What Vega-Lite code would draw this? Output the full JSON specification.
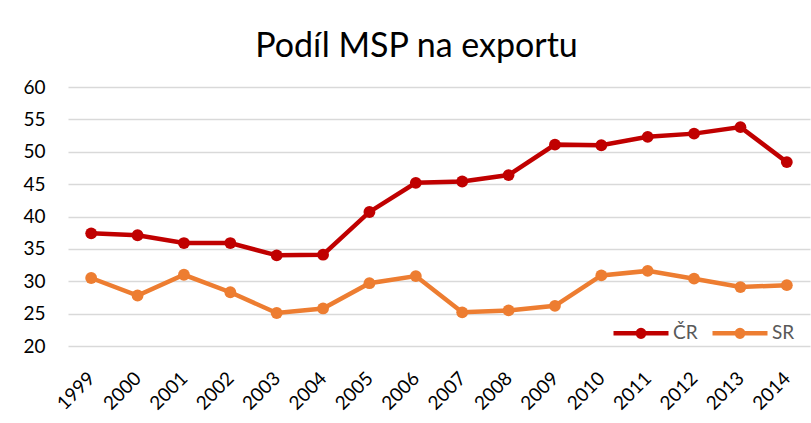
{
  "$schema": "https://vega.github.io/schema/vega-lite/v6.json",
  "width": 742,
  "height": 259,
  "autosize": "none",
  "padding": {"left": 68, "top": 87, "right": 1, "bottom": 77},
  "background": "white",
  "title": {
    "text": "Podíl MSP na exportu",
    "font": "Lato",
    "fontSize": 34,
    "fontWeight": "normal",
    "color": "#000000",
    "anchor": "middle",
    "frame": "bounds",
    "offset": 14
  },
  "config": {
    "view": {"stroke": null},
    "font": "Lato"
  },
  "data": {
    "values": [
      {"year": "1999", "series": "ČR", "value": 37.4},
      {"year": "2000", "series": "ČR", "value": 37.1},
      {"year": "2001", "series": "ČR", "value": 35.9},
      {"year": "2002", "series": "ČR", "value": 35.9},
      {"year": "2003", "series": "ČR", "value": 34.0},
      {"year": "2004", "series": "ČR", "value": 34.1},
      {"year": "2005", "series": "ČR", "value": 40.7},
      {"year": "2006", "series": "ČR", "value": 45.2},
      {"year": "2007", "series": "ČR", "value": 45.4},
      {"year": "2008", "series": "ČR", "value": 46.4},
      {"year": "2009", "series": "ČR", "value": 51.1},
      {"year": "2010", "series": "ČR", "value": 51.0},
      {"year": "2011", "series": "ČR", "value": 52.3},
      {"year": "2012", "series": "ČR", "value": 52.8},
      {"year": "2013", "series": "ČR", "value": 53.8},
      {"year": "2014", "series": "ČR", "value": 48.4},
      {"year": "1999", "series": "SR", "value": 30.5},
      {"year": "2000", "series": "SR", "value": 27.8},
      {"year": "2001", "series": "SR", "value": 31.0},
      {"year": "2002", "series": "SR", "value": 28.3},
      {"year": "2003", "series": "SR", "value": 25.1},
      {"year": "2004", "series": "SR", "value": 25.8},
      {"year": "2005", "series": "SR", "value": 29.7},
      {"year": "2006", "series": "SR", "value": 30.8},
      {"year": "2007", "series": "SR", "value": 25.2},
      {"year": "2008", "series": "SR", "value": 25.5},
      {"year": "2009", "series": "SR", "value": 26.2},
      {"year": "2010", "series": "SR", "value": 30.9},
      {"year": "2011", "series": "SR", "value": 31.6},
      {"year": "2012", "series": "SR", "value": 30.4},
      {"year": "2013", "series": "SR", "value": 29.1},
      {"year": "2014", "series": "SR", "value": 29.4}
    ]
  },
  "encoding": {
    "x": {
      "field": "year",
      "type": "ordinal",
      "scale": {"type": "point", "padding": 0.5},
      "axis": {
        "title": null,
        "labelAngle": -45,
        "labelAlign": "right",
        "labelBaseline": "middle",
        "labelFontSize": 19,
        "labelColor": "#000000",
        "labelPadding": 29,
        "domain": false,
        "ticks": false,
        "grid": false
      }
    },
    "y": {
      "field": "value",
      "type": "quantitative",
      "scale": {"domain": [20, 60], "nice": false, "zero": false},
      "axis": {
        "title": null,
        "values": [20, 25, 30, 35, 40, 45, 50, 55, 60],
        "labelFontSize": 19,
        "labelColor": "#000000",
        "labelPadding": 23,
        "domain": false,
        "ticks": false,
        "grid": true,
        "gridColor": "#D9D9D9",
        "gridWidth": 1.3
      }
    },
    "color": {
      "field": "series",
      "type": "nominal",
      "scale": {"domain": ["ČR", "SR"], "range": ["#C00000", "#ED7D31"]},
      "legend": {
        "title": null,
        "orient": "none",
        "legendX": 543,
        "legendY": 216,
        "direction": "horizontal",
        "columns": 2,
        "symbolType": "M-1,0H1M-0.12,0A0.12,0.12,0,1,1,0.12,0A0.12,0.12,0,1,1,-0.12,0Z",
        "symbolSize": 3025,
        "symbolStrokeWidth": 4.5,
        "symbolFillColor": null,
        "labelFontSize": 19,
        "labelColor": "#595959",
        "labelOffset": 2,
        "columnPadding": 5
      }
    }
  },
  "layer": [
    {
      "mark": {"type": "line", "strokeWidth": 4.5}
    },
    {
      "mark": {"type": "point", "filled": true, "size": 140, "opacity": 1},
      "encoding": {}
    }
  ]
}
